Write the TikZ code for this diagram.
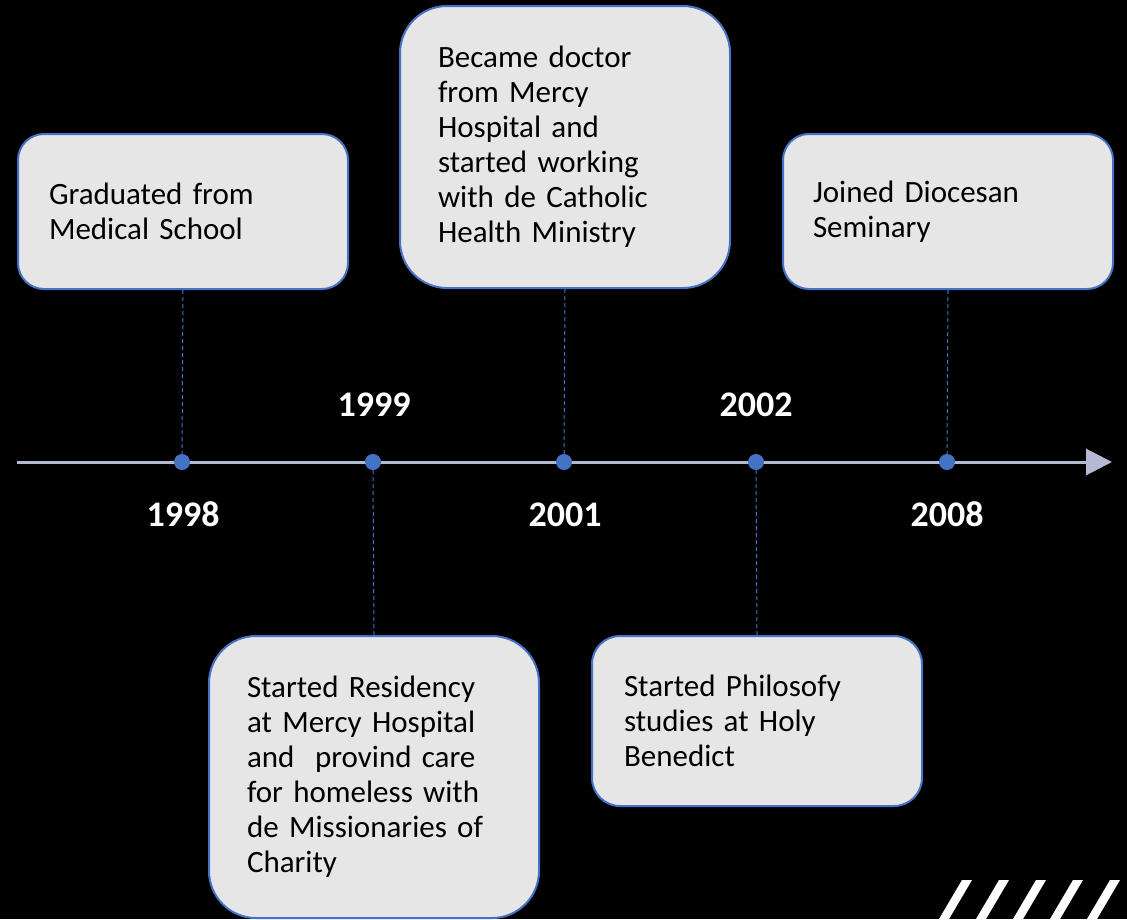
\documentclass[tikz,border=0pt]{standalone}
\usepackage{fontspec}
\setmainfont{Carlito}
\usetikzlibrary{arrows.meta}
\definecolor{accentblue}{HTML}{4472C4}
\definecolor{boxgray}{HTML}{E7E6E6}
\definecolor{axisgray}{HTML}{B4BAD2}

\begin{document}
\begin{tikzpicture}[x=1pt, y=-1pt,
    event/.style={draw=accentblue, line width=2pt, fill=boxgray, anchor=north west, minimum width=330pt, inner ysep=0pt, align=left, font=\fontsize{31}{35}\selectfont},
    year/.style={text=white, anchor=base, font=\fontsize{36}{40}\selectfont\bfseries},
    dot/.style={circle, fill=accentblue, minimum size=16pt, inner sep=0pt},
    link/.style={draw=accentblue, line width=1pt, dash pattern=on 4pt off 3pt}]
  \fill[black] (0,0) rectangle (1127,919);
  \useasboundingbox (0,0) rectangle (1127,919);

  % event boxes
  \node [event, rounded corners=26pt, minimum height=155pt, inner xsep=31pt, text width=268pt] (grad) at (17,133) {Graduated from\\Medical School};
  \node [event, rounded corners=47pt, minimum height=282pt, inner xsep=38pt, text width=254pt] (doctor) at (399,5) {Became doctor\\from Mercy\\Hospital and\\started working\\with de Catholic\\Health Ministry};
  \node [event, rounded corners=26pt, minimum height=155pt, inner xsep=30pt, text width=270pt] (seminary) at (782,133) {Joined Diocesan\\Seminary};
  \node [event, rounded corners=47pt, minimum height=282pt, inner xsep=38pt, text width=254pt] (residency) at (208,635) {Started Residency\\at Mercy Hospital\\and~ provind care\\for homeless with\\de Missionaries of\\Charity};
  \node [event, rounded corners=28pt, minimum height=170pt, inner xsep=32pt, text width=266pt] (philo) at (591,635) {Started Philosofy\\studies at Holy\\Benedict};

  % time axis
  \coordinate (start) at (17,462);
  \coordinate (tip) at (1112,462);
  \draw [axisgray, line width=3pt, -{Triangle[length=26pt, width=26pt]}] (start) -- (tip);

  \node [dot] (d1998) at (182,462) {};
  \node [dot] (d1999) at (373,462) {};
  \node [dot] (d2001) at (564,462) {};
  \node [dot] (d2002) at (756,462) {};
  \node [dot] (d2008) at (947,462) {};

  \draw [link] (grad.south) -- (d1998.north);
  \draw [link] (doctor.south) -- (d2001.north);
  \draw [link] (seminary.south) -- (d2008.north);
  \draw [link] (d1999.south) -- (residency.north);
  \draw [link] (d2002.south) -- (philo.north);

  % years
  \node [year] (y1998) at (183,526) {1998};
  \node [year] (y1999) at (374,416) {1999};
  \node [year] (y2001) at (565,526) {2001};
  \node [year] (y2002) at (756,416) {2002};
  \node [year] (y2008) at (947,526) {2008};

  % slashes
  \foreach \i in {0,...,4}
    \fill [white] ({962+37*\i},880) -- ({972+37*\i},880) -- ({949+37*\i},919) -- ({939+37*\i},919) -- cycle;
\end{tikzpicture}
\end{document}
